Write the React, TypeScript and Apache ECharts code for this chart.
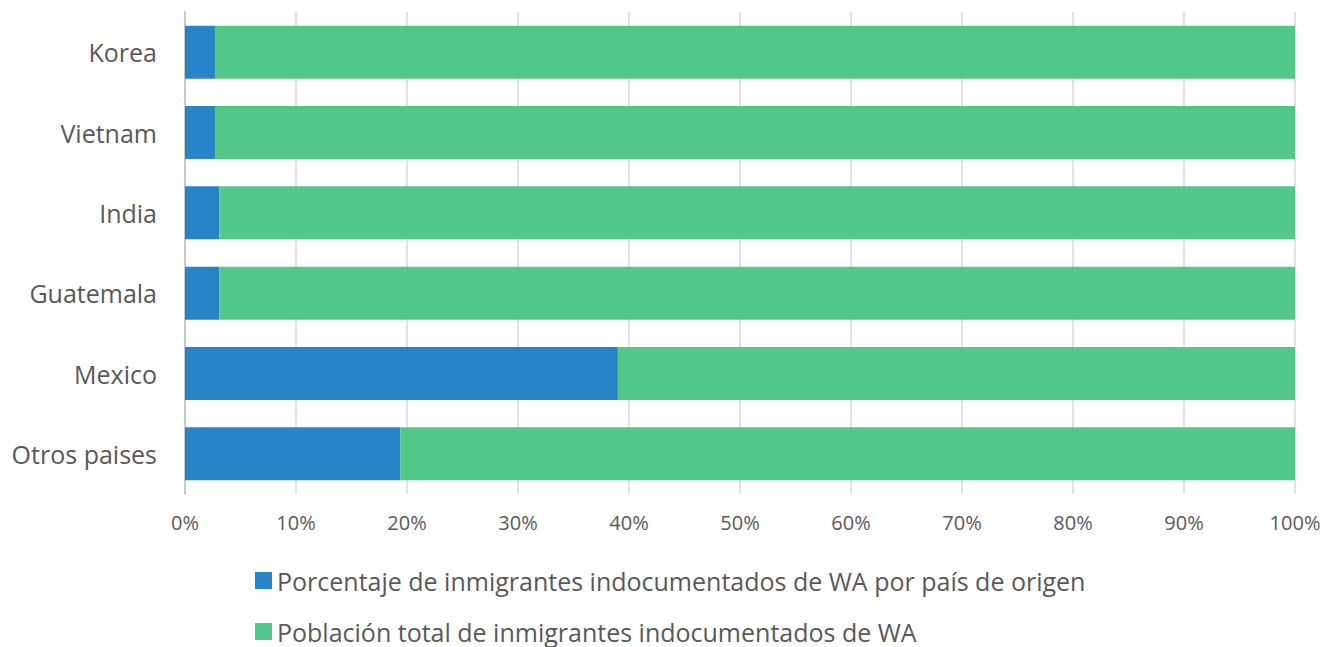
import React, { useEffect, useRef } from "react";
import * as echarts from "echarts";

const categories = ["Otros paises", "Mexico", "Guatemala", "India", "Vietnam", "Korea"];
const porcentaje = [19.4, 39.0, 3.1, 3.1, 2.7, 2.7];
const poblacion = [80.6, 61.0, 96.9, 96.9, 97.3, 97.3];
const seriesNames = [
  "Porcentaje de inmigrantes indocumentados de WA por país de origen",
  "Población total de inmigrantes indocumentados de WA",
];

export default function App() {
  const ref = useRef<HTMLDivElement>(null);
  useEffect(() => {
    const chart = echarts.init(ref.current!, null, { renderer: "svg" });
    const font = "'Open Sans', 'Noto Sans', sans-serif";
    const legendBase = {
      orient: "horizontal",
      left: 250,
      itemWidth: 17,
      itemHeight: 17,
      icon: "rect",
      textStyle: { fontSize: 25, color: "#595959", fontFamily: font },
    };
    chart.setOption({
      animation: false,
      textStyle: { fontFamily: font },
      grid: { left: 185, width: 1110, top: 12, height: 482, containLabel: false },
      legend: [
        { ...legendBase, top: 563, data: [seriesNames[0]] },
        { ...legendBase, top: 614, data: [seriesNames[1]] },
      ],
      xAxis: {
        type: "value",
        min: 0,
        max: 100,
        interval: 10,
        axisLabel: {
          formatter: "{value}%",
          fontSize: 20,
          color: "#595959",
          margin: 18,
          fontFamily: font,
        },
        splitLine: { show: true, lineStyle: { color: "#d9d9d9", width: 1.5 } },
        axisLine: { show: false },
        axisTick: { show: false },
      },
      yAxis: {
        type: "category",
        data: categories,
        axisLine: { show: true, lineStyle: { color: "#c8c8c8", width: 2 } },
        axisTick: { show: false },
        axisLabel: { fontSize: 25, color: "#595959", margin: 28, fontFamily: font },
      },
      series: [
        {
          name: seriesNames[0],
          type: "bar",
          stack: "total",
          data: porcentaje,
          barCategoryGap: "34%",
          itemStyle: { color: "#2180c6", opacity: 0.97 },
        },
        {
          name: seriesNames[1],
          type: "bar",
          stack: "total",
          data: poblacion,
          barCategoryGap: "34%",
          itemStyle: { color: "#4cc784", opacity: 0.97 },
        },
      ],
    });
    return () => chart.dispose();
  }, []);
  return (
    <div
      ref={ref}
      style={{ position: "absolute", left: 0, top: 0, width: 1337, height: 647 }}
    />
  );
}
